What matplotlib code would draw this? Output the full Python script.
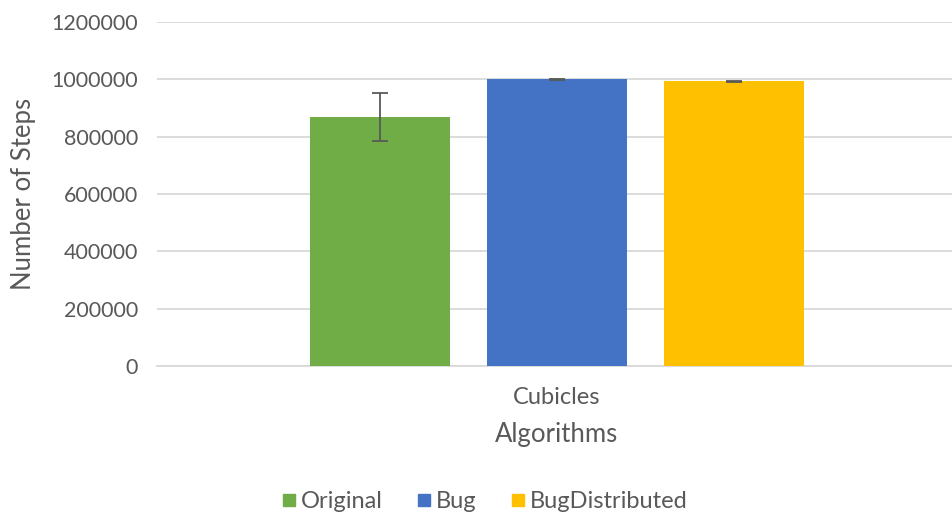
import matplotlib
matplotlib.use("Agg")
import matplotlib.pyplot as plt
from matplotlib.lines import Line2D

# Data
category = "Cubicles"
series = ["Original", "Bug", "BugDistributed"]
steps = [868000, 1000000, 993000]
errors = [83500, 1500, 1500]
colors = ["#70AD47", "#4472C4", "#FFC000"]
yticks = [0, 200000, 400000, 600000, 800000, 1000000, 1200000]

plt.rcParams["font.family"] = ["Lato", "DejaVu Sans"]
text_color = "#595959"

W, H = 953, 519
fig = plt.figure(figsize=(W / 100, H / 100), dpi=100)
ax = fig.add_axes([157 / W, (H - 366) / H, (957 - 157) / W, (366 - 22) / H])

offsets = [-1, 0, 1]
bar_w = 140 / 177
for off, val, err, col in zip(offsets, steps, errors, colors):
    ax.bar(off, val, width=bar_w, color=col, zorder=3)
    ax.errorbar(off, val, yerr=err, fmt="none", ecolor=text_color,
                elinewidth=1.3, capsize=5.5, capthick=1.3, zorder=4)

ax.set_xlim(-400 / 177, 400 / 177)
ax.set_ylim(0, 1200000)
ax.set_yticks(yticks)
ax.set_yticklabels([str(v) for v in yticks])
ax.set_xticks([0])
ax.set_xticklabels([category])

ax.grid(axis="y", color="#D9D9D9", linewidth=1.3, zorder=0)
for s in ["top", "right", "left"]:
    ax.spines[s].set_visible(False)
ax.spines["bottom"].set_color("#D9D9D9")
ax.spines["bottom"].set_linewidth(1.3)
ax.tick_params(axis="both", length=0, labelsize=15.5, colors=text_color)
ax.tick_params(axis="y", pad=13.5)
ax.tick_params(axis="x", pad=15, labelsize=17)

ax.set_ylabel("Number of Steps", fontsize=18.5, color=text_color, labelpad=11)
ax.set_xlabel("Algorithms", fontsize=18.5, color=text_color, labelpad=10)

handles = [Line2D([], [], marker="s", linestyle="none", markersize=9,
                  markerfacecolor=c, markeredgecolor=c) for c in colors]
fig.legend(handles, series, loc="center", bbox_to_anchor=(483 / W, 1 - 502 / H),
           ncol=3, frameon=False, fontsize=17, labelcolor=text_color,
           handletextpad=0.05, columnspacing=1.3, handlelength=0.9)

fig.savefig("out.png", dpi=100)
